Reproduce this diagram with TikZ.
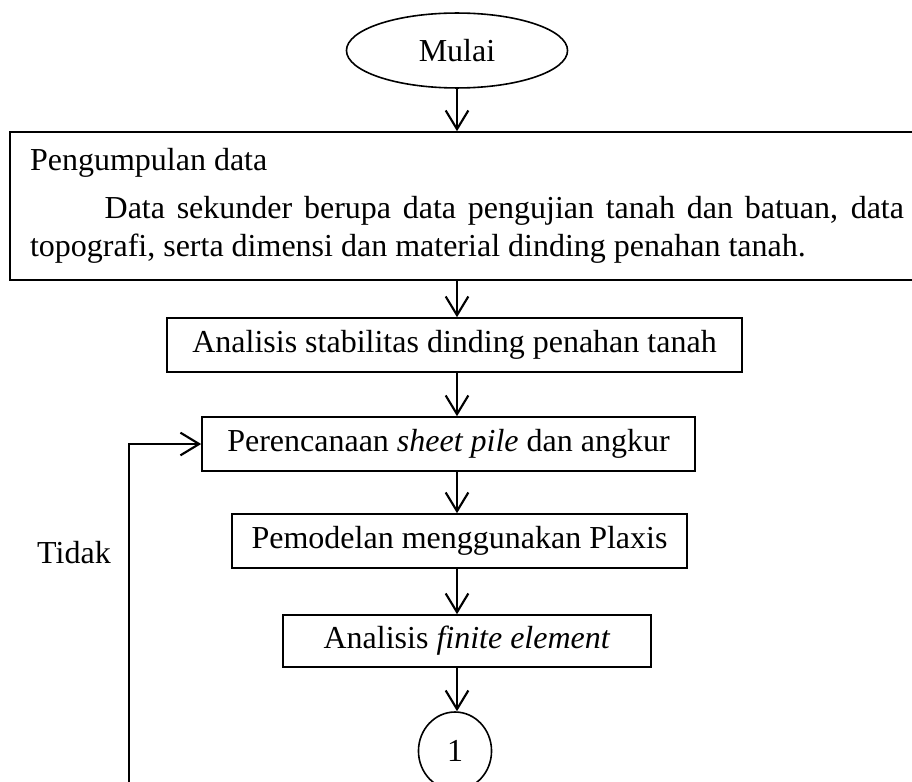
\documentclass[tikz,border=0pt]{standalone}
\usepackage{fontspec}
\setmainfont{Liberation Serif}
\usetikzlibrary{arrows.meta,shapes.geometric}

\begin{document}
\begin{tikzpicture}[x=0.375pt,y=-0.375pt,->,>={Straight Barb[length=7pt,width=8.5pt]},
            line width=0.8pt,font=\fontsize{12pt}{14.5pt}\selectfont]
        \tikzstyle{kotak}=[draw,rectangle,line width=0.6pt,inner sep=0pt,minimum height=20.25pt]
        \tikzstyle{oval}=[draw,ellipse,line width=0.6pt,inner sep=0pt]

        \useasboundingbox (0,0) rectangle (912,781);

        \node[oval,minimum width=82.9pt,minimum height=28.1pt] (mulai) at (457,50.5) {Mulai};
        \node[kotak,text width=327.75pt,inner xsep=7.5pt,minimum height=55.5pt,align=justify] (data) at (467,206)
            {Pengumpulan data\\[3.5pt]\hspace*{28pt}Data sekunder berupa data pengujian tanah dan batuan, data topografi, serta dimensi dan material dinding penahan tanah.};
        \node[kotak,minimum width=215.6pt] (stab) at (454.5,345) {Analisis stabilitas dinding penahan tanah};
        \node[kotak,minimum width=184.9pt] (renc) at (448.5,444) {Perencanaan \textit{sheet pile} dan angkur};
        \node[kotak,minimum width=170.6pt] (model) at (459.5,541) {Pemodelan menggunakan Plaxis};
        \node[kotak,minimum width=138pt,minimum height=19.5pt] (fem) at (467,641) {Analisis \textit{finite element}};
        \node[oval,minimum width=27.4pt,minimum height=29.25pt] (satu) at (455,751) {1};
        \node (tidak) at (74,553) {Tidak};
        \coordinate (balik) at (129,800);

        \path (mulai) edge (mulai |- data.north)
              (data.south -| mulai) edge (mulai |- stab.north)
              (stab.south -| mulai) edge (mulai |- renc.north)
              (renc.south -| mulai) edge (mulai |- model.north)
              (model.south -| mulai) edge (mulai |- fem.north)
              (fem.south -| mulai) edge (mulai |- satu.north);
        \draw (balik) |- (renc.west);
    \end{tikzpicture}
\end{document}
